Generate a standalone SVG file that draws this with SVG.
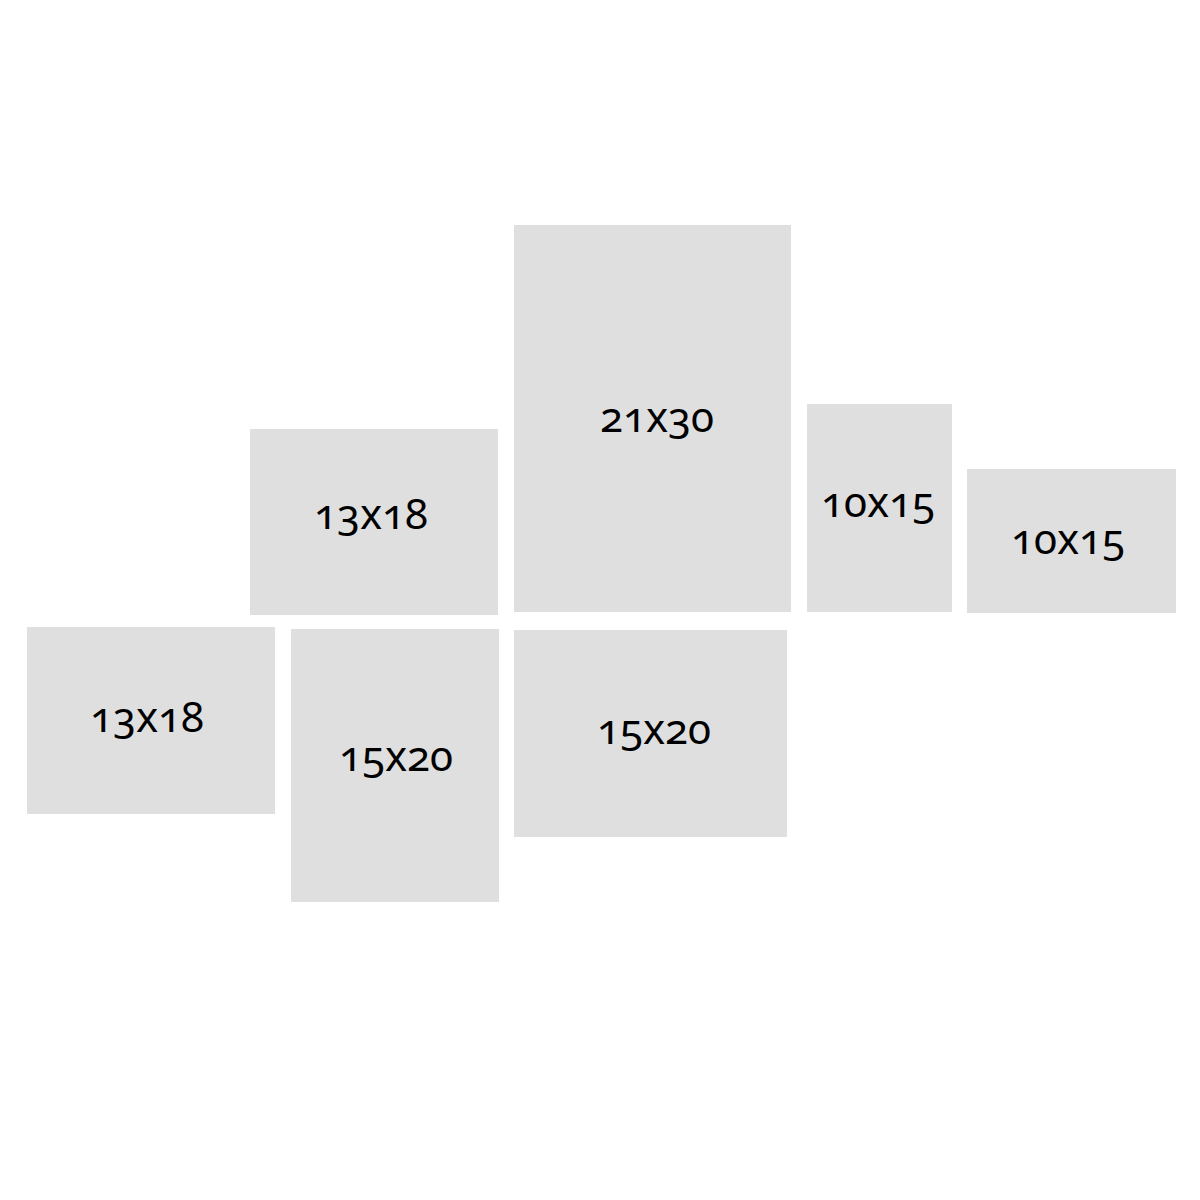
<svg xmlns="http://www.w3.org/2000/svg" width="1200" height="1200" viewBox="0 0 1200 1200">
<style>
.frame{fill:#dfdfdf;}
.lbl{font-family:"Noto Sans","Open Sans","DejaVu Sans",sans-serif;font-size:42px;fill:#000;text-anchor:middle;font-variant-numeric:oldstyle-nums;font-feature-settings:"onum" 1;}
</style>
<rect x="0" y="0" width="1200" height="1200" fill="#ffffff"/>
<g id="frame-21x30"><rect class="frame" x="514" y="225" width="277" height="387"/><text class="lbl" x="657" y="432">21x30</text></g>
<g id="frame-13x18-top"><rect class="frame" x="250" y="429" width="248" height="186"/><text class="lbl" x="371" y="529">13x18</text></g>
<g id="frame-10x15-tall"><rect class="frame" x="807" y="404" width="145" height="208"/><text class="lbl" x="878" y="517">10x15</text></g>
<g id="frame-10x15-wide"><rect class="frame" x="967" y="469" width="209" height="144"/><text class="lbl" x="1068" y="554">10x15</text></g>
<g id="frame-13x18-bottom"><rect class="frame" x="27" y="627" width="248" height="187"/><text class="lbl" x="147" y="732">13x18</text></g>
<g id="frame-15x20-left"><rect class="frame" x="291" y="629" width="208" height="273"/><text class="lbl" x="396" y="771">15x20</text></g>
<g id="frame-15x20-mid"><rect class="frame" x="514" y="630" width="273" height="207"/><text class="lbl" x="654" y="744">15x20</text></g>
<g id="connectors"></g>
</svg>
